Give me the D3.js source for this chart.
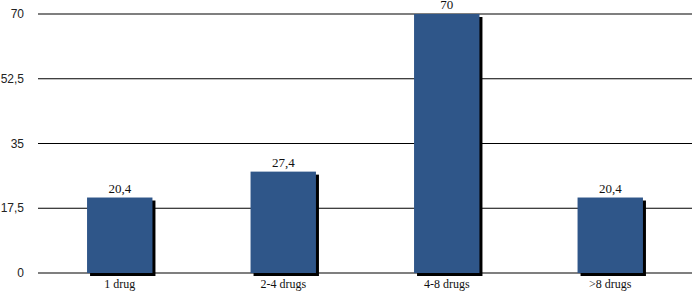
<!DOCTYPE html>
<html lang="en">
<head>
  <meta charset="UTF-8">
  <title>Number of drugs</title>
  <style>
    body { margin: 0; background: #fff; }
  </style>
  <script src="https://d3js.org/d3.v7.min.js"></script>
</head>
<body>
  <div id="chart"></div>
  <script>
    const categories = ["1 drug", "2-4 drugs", "4-8 drugs", ">8 drugs"];
    const values = [20.4, 27.4, 70, 20.4];
    const tickValues = [0, 17.5, 35, 52.5, 70];

    const width = 692, height = 292;
    const plotLeft = 38, plotRight = 692, plotTop = 14, plotBottom = 273;

    const fmt = v => String(v).replace(".", ",");

    const svg = d3.select("#chart")
      .append("svg")
      .attr("width", width)
      .attr("height", height);

    const x = d3.scaleBand()
      .domain(categories)
      .range([plotLeft, plotRight])
      .paddingInner(0.6)
      .paddingOuter(0.3);

    const y = d3.scaleLinear()
      .domain([0, 70])
      .range([plotBottom, plotTop]);

    // gridlines
    svg.append("g")
      .selectAll("line")
      .data(tickValues)
      .join("line")
      .attr("x1", plotLeft)
      .attr("x2", plotRight)
      .attr("y1", d => y(d))
      .attr("y2", d => y(d))
      .attr("stroke", "#000")
      .attr("stroke-width", 1.2);

    // y tick labels
    svg.append("g")
      .selectAll("text")
      .data(tickValues)
      .join("text")
      .attr("x", 24)
      .attr("y", d => y(d) + 4)
      .attr("text-anchor", "end")
      .style("font-family", "Liberation Sans, Arial, sans-serif")
      .style("font-size", "12px")
      .attr("fill", "#222")
      .text(d => fmt(d));

    // bar shadows
    svg.append("g")
      .selectAll("rect")
      .data(values)
      .join("rect")
      .attr("x", (d, i) => x(categories[i]) + 3)
      .attr("y", d => y(d) + 3)
      .attr("width", x.bandwidth())
      .attr("height", d => plotBottom - y(d))
      .attr("fill", "#000");

    // bars
    svg.append("g")
      .selectAll("rect")
      .data(values)
      .join("rect")
      .attr("x", (d, i) => x(categories[i]))
      .attr("y", d => y(d))
      .attr("width", x.bandwidth())
      .attr("height", d => plotBottom - y(d))
      .attr("fill", "#2f5689");

    // value labels
    svg.append("g")
      .selectAll("text")
      .data(values)
      .join("text")
      .attr("x", (d, i) => x(categories[i]) + x.bandwidth() / 2)
      .attr("y", d => y(d) - 5)
      .attr("text-anchor", "middle")
      .style("font-family", "Liberation Serif, Times New Roman, serif")
      .style("font-size", "13px")
      .attr("fill", "#111")
      .text(d => fmt(d));

    // category labels
    svg.append("g")
      .selectAll("text")
      .data(categories)
      .join("text")
      .attr("x", d => x(d) + x.bandwidth() / 2)
      .attr("y", 288)
      .attr("text-anchor", "middle")
      .style("font-family", "Liberation Serif, Times New Roman, serif")
      .style("font-size", "12px")
      .attr("fill", "#111")
      .text(d => d);
  </script>
</body>
</html>
